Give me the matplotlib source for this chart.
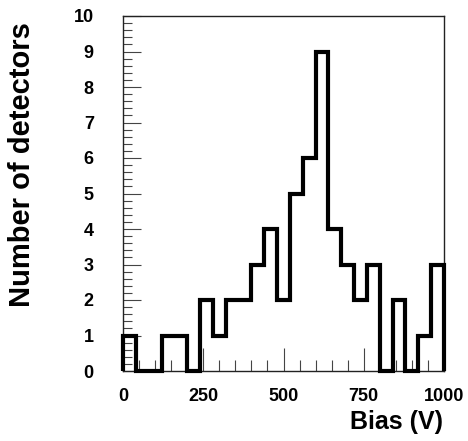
import matplotlib
matplotlib.use("Agg")
import matplotlib.pyplot as plt
from matplotlib.ticker import MultipleLocator

# bias histogram, 40 V bins from 0 to 1000 V
bin_edges = list(range(0, 1001, 40))
counts = [1, 0, 0, 1, 1, 0, 2, 1, 2, 2, 3, 4, 2, 5, 6, 9, 4, 3, 2, 3, 0, 2, 0, 1, 3]

plt.rcParams["font.family"] = ["Liberation Sans", "DejaVu Sans"]
plt.rcParams["font.weight"] = "bold"

W, H = 468, 441
fig = plt.figure(figsize=(W / 100, H / 100), dpi=100)
ax = fig.add_axes([123 / W, 1 - 371 / H, 321 / W, 355 / H])

ax.stairs(counts, bin_edges, color="black", lw=3, baseline=0, clip_on=False, zorder=3)

ax.set_xlim(0, 1000)
ax.set_ylim(0, 10)
ax.xaxis.set_major_locator(MultipleLocator(250))
ax.xaxis.set_minor_locator(MultipleLocator(50))
ax.yaxis.set_major_locator(MultipleLocator(1))
ax.yaxis.set_minor_locator(MultipleLocator(0.2))

for s in ax.spines.values():
    s.set_color("#222222")
    s.set_linewidth(1.0)

ax.tick_params(axis="x", which="major", direction="in", length=16.5, width=0.8,
               color="#444444", pad=12, labelsize=13)
ax.tick_params(axis="x", which="minor", direction="in", length=8, width=0.8, color="#444444")
ax.tick_params(axis="y", which="major", direction="in", length=13, width=0.8,
               color="#444444", pad=21, labelsize=13)
ax.tick_params(axis="y", which="minor", direction="in", length=6.5, width=0.8, color="#444444")
for lab in ax.get_xticklabels() + ax.get_yticklabels():
    lab.set_fontweight("bold")

fig.text(443 / W, 1 - 429 / H, "Bias (V)", fontsize=18, fontweight="bold",
         ha="right", va="baseline")
fig.text(22 / W, 1 - 165 / H, "Number of detectors", fontsize=21, fontweight="bold",
         rotation=90, ha="center", va="center")

fig.savefig("out.png", dpi=100)
